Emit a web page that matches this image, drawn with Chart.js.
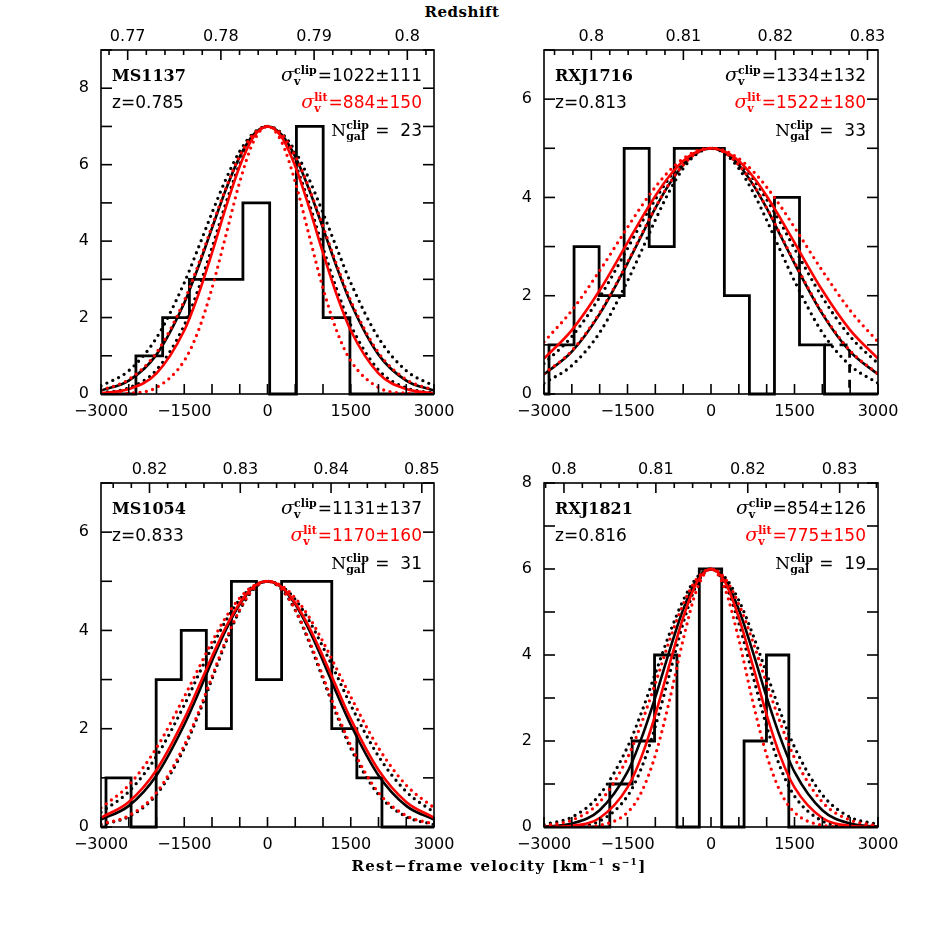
<!DOCTYPE html>
<html lang="en">
<head>
  <meta charset="UTF-8" />
  <title>Cluster velocity distributions</title>
  <script src="https://cdn.jsdelivr.net/npm/chart.js"></script>
  <style>
    body { margin: 0; background: #fff; width: 926px; height: 926px; position: relative; overflow: hidden; }
    canvas.panel { position: absolute; }
    .lbl { position: absolute; font-family: "DejaVu Serif"; font-weight: bold; color: #000; white-space: nowrap; transform: translateX(-50%); }
    .lbl sup { font-size: 9px; vertical-align: 6px; }
    #redshift { left: 462px; top: 3px; font-size: 15px; letter-spacing: 0.5px; }
    #xtitle { left: 499px; top: 857px; font-size: 15px; letter-spacing: 1.3px; }
  </style>
</head>
<body>
  <div id="redshift" class="lbl">Redshift</div>
  <canvas id="p1" class="panel" width="463" height="440" style="left:0px;top:0px"></canvas>
  <canvas id="p2" class="panel" width="463" height="440" style="left:463px;top:0px"></canvas>
  <canvas id="p3" class="panel" width="463" height="440" style="left:0px;top:440px"></canvas>
  <canvas id="p4" class="panel" width="463" height="440" style="left:463px;top:440px"></canvas>
  <div id="xtitle" class="lbl">Rest−frame velocity [km<sup>−1</sup> s<sup>−1</sup>]</div>

  <script>
    // velocity sampling of the gaussian curves (km/s)
    const velocityGrid = [-3000,-2500,-2000,-1500,-1250,-1000,-750,-500,-250,0,250,500,750,1000,1250,1500,2000,2500,3000];

    // MS1137
    const ms1137Edges  = [-2371,-1889,-1407,-925,-443,39,521,1003,1485];
    const ms1137Counts = [1,2,3,3,5,0,7,2];
    const ms1137Clip   = [0.09,0.35,1.03,2.38,3.31,4.34,5.35,6.21,6.79,7,6.79,6.21,5.35,4.34,3.31,2.38,1.03,0.35,0.09];
    const ms1137ClipLo = [0.03,0.16,0.63,1.80,2.73,3.83,4.99,6.02,6.74,7,6.74,6.02,4.99,3.83,2.73,1.80,0.63,0.16,0.03];
    const ms1137ClipHi = [0.21,0.61,1.47,2.91,3.81,4.74,5.62,6.35,6.83,7,6.83,6.35,5.62,4.74,3.81,2.91,1.47,0.61,0.21];
    const ms1137Lit    = [0.02,0.13,0.54,1.66,2.58,3.69,4.88,5.96,6.73,7,6.73,5.96,4.88,3.69,2.58,1.66,0.54,0.13,0.02];
    const ms1137LitLo  = [0,0.02,0.17,0.87,1.64,2.77,4.15,5.55,6.61,7,6.61,5.55,4.15,2.77,1.64,0.87,0.17,0.02,0];
    const ms1137LitHi  = [0.10,0.38,1.08,2.44,3.37,4.39,5.38,6.23,6.80,7,6.80,6.23,5.38,4.39,3.37,2.44,1.08,0.38,0.10];

    // RXJ1716
    const rxj1716Edges  = [-2910,-2460,-2010,-1560,-1110,-660,-210,240,690,1140,1590,2040];
    const rxj1716Counts = [1,3,2,5,3,5,5,2,0,4,1];
    const rxj1716ExtraEdges  = [2040,2490];
    const rxj1716ExtraCounts = [1];
    const rxj1716Clip   = [0.40,0.86,1.63,2.66,3.22,3.78,4.27,4.66,4.91,5,4.91,4.66,4.27,3.78,3.22,2.66,1.63,0.86,0.40];
    const rxj1716ClipLo = [0.22,0.58,1.25,2.30,2.91,3.54,4.12,4.59,4.89,5,4.89,4.59,4.12,3.54,2.91,2.30,1.25,0.58,0.22];
    const rxj1716ClipHi = [0.62,1.17,1.97,2.96,3.48,3.96,4.39,4.72,4.93,5,4.93,4.72,4.39,3.96,3.48,2.96,1.97,1.17,0.62];
    const rxj1716Lit    = [0.72,1.30,2.11,3.08,3.57,4.03,4.43,4.74,4.93,5,4.93,4.74,4.43,4.03,3.57,3.08,2.11,1.30,0.72];
    const rxj1716LitLo  = [0.41,0.88,1.65,2.68,3.24,3.79,4.28,4.66,4.91,5,4.91,4.66,4.28,3.79,3.24,2.68,1.65,0.88,0.41];
    const rxj1716LitHi  = [1.06,1.70,2.51,3.39,3.82,4.21,4.54,4.79,4.95,5,4.95,4.79,4.54,4.21,3.82,3.39,2.51,1.70,1.06];

    // MS1054
    const ms1054Edges  = [-2910,-2458,-2006,-1554,-1102,-650,-198,254,706,1158,1610,2062];
    const ms1054Counts = [1,0,3,4,2,5,3,5,5,2,1];
    const ms1054Clip   = [0.15,0.43,1.05,2.08,2.71,3.38,4.01,4.53,4.88,5,4.88,4.53,4.01,3.38,2.71,2.08,1.05,0.43,0.15];
    const ms1054ClipLo = [0.05,0.21,0.66,1.60,2.27,3.01,3.76,4.41,4.84,5,4.84,4.41,3.76,3.01,2.27,1.60,0.66,0.21,0.05];
    const ms1054ClipHi = [0.30,0.72,1.44,2.48,3.08,3.66,4.20,4.63,4.90,5,4.90,4.63,4.20,3.66,3.08,2.48,1.44,0.72,0.30];
    const ms1054Lit    = [0.19,0.51,1.16,2.20,2.83,3.47,4.07,4.56,4.89,5,4.89,4.56,4.07,3.47,2.83,2.20,1.16,0.51,0.19];
    const ms1054LitLo  = [0.06,0.23,0.70,1.66,2.32,3.06,3.80,4.42,4.85,5,4.85,4.42,3.80,3.06,2.32,1.66,0.70,0.23,0.06];
    const ms1054LitHi  = [0.39,0.85,1.61,2.65,3.21,3.77,4.27,4.66,4.91,5,4.91,4.66,4.27,3.77,3.21,2.65,1.61,0.85,0.39];

    // RXJ1821
    const rxj1821Edges  = [-1818,-1416,-1014,-612,-210,192,594,996,1398];
    const rxj1821Counts = [1,2,4,0,6,0,2,4];
    const rxj1821Clip   = [0.01,0.08,0.39,1.28,2.06,3.02,4.08,5.06,5.75,6,5.75,5.06,4.08,3.02,2.06,1.28,0.39,0.08,0.01];
    const rxj1821ClipLo = [0,0.02,0.14,0.72,1.37,2.34,3.53,4.74,5.66,6,5.66,4.74,3.53,2.34,1.37,0.72,0.14,0.02,0];
    const rxj1821ClipHi = [0.06,0.23,0.75,1.86,2.66,3.57,4.48,5.27,5.81,6,5.81,5.27,4.48,3.57,2.66,1.86,0.75,0.23,0.06];
    const rxj1821Lit    = [0,0.03,0.21,0.92,1.63,2.61,3.76,4.87,5.70,6,5.70,4.87,3.76,2.61,1.63,0.92,0.21,0.03,0];
    const rxj1821LitLo  = [0,0,0.04,0.34,0.81,1.67,2.92,4.36,5.54,6,5.54,4.36,2.92,1.67,0.81,0.34,0.04,0,0];
    const rxj1821LitHi  = [0.03,0.16,0.58,1.61,2.41,3.34,4.32,5.18,5.78,6,5.78,5.18,4.32,3.34,2.41,1.61,0.58,0.16,0.03];

    // panel texts
    const clusterNames = ["MS1137", "RXJ1716", "MS1054", "RXJ1821"];
    const clusterZ     = [0.785, 0.813, 0.833, 0.816];
    const sigmaClip    = ["1022±111", "1334±132", "1131±137", "854±126"];
    const sigmaLit     = ["884±150", "1522±180", "1170±160", "775±150"];
    const nClip        = [23, 33, 31, 19];
    const yMaxes       = [9, 7, 7, 8];

    const LIGHT_C = 299792.458;
    const RED = "#ff0000";

    const fmtVel = v => v < 0 ? "−" + Math.abs(v) : String(v);

    function drawPieces(ctx, pieces, xRight, base, color) {
      let total = 0;
      pieces.forEach(p => {
        ctx.font = p.font;
        p.w = p.text !== undefined ? ctx.measureText(p.text).width
          : Math.max(ctx.measureText(p.sup).width, ctx.measureText(p.sub).width) + 1;
        total += p.w;
      });
      let x = xRight - total;
      ctx.fillStyle = color;
      ctx.textAlign = "left";
      ctx.textBaseline = "alphabetic";
      pieces.forEach(p => {
        ctx.font = p.font;
        if (p.text !== undefined) ctx.fillText(p.text, x, base);
        else {
          ctx.fillText(p.sup, x, base - 7);
          ctx.fillText(p.sub, x, base + 4);
        }
        x += p.w;
      });
    }

    // frame, inward ticks and the text block of each panel
    const framePlugin = {
      id: "frame",
      afterDraw(chart, args, o) {
        const { ctx, chartArea: a, scales } = chart;
        ctx.save();
        ctx.strokeStyle = "#000";
        ctx.lineWidth = 1.6;
        ctx.strokeRect(a.left, a.top, a.right - a.left, a.bottom - a.top);
        const seg = (x1, y1, x2, y2) => { ctx.beginPath(); ctx.moveTo(x1, y1); ctx.lineTo(x2, y2); ctx.stroke(); };
        scales.x.ticks.forEach(t => {
          const px = scales.x.getPixelForValue(t.value);
          seg(px, a.bottom, px, a.bottom - 10);
        });
        scales.x2.ticks.forEach(t => {
          const px = scales.x2.getPixelForValue(t.value);
          seg(px, a.top, px, a.top + (t.label ? 10 : 5));
        });
        scales.y.ticks.forEach(t => {
          const py = scales.y.getPixelForValue(t.value);
          seg(a.left, py, a.left + 11, py);
          seg(a.right, py, a.right - 11, py);
        });

        const i = o.index;
        ctx.fillStyle = "#000";
        ctx.textAlign = "left";
        ctx.textBaseline = "alphabetic";
        ctx.font = "bold 16px 'DejaVu Serif'";
        ctx.fillText(clusterNames[i], a.left + 11, a.top + 31);
        ctx.font = "17px 'DejaVu Sans'";
        ctx.fillText("z=" + clusterZ[i].toFixed(3), a.left + 11, a.top + 58);

        const xr = a.right - 12;
        drawPieces(ctx, [
          { text: "σ", font: "italic 19px 'DejaVu Serif'" },
          { sup: "clip", sub: "v", font: "bold 11px 'DejaVu Serif'" },
          { text: "=" + sigmaClip[i], font: "17px 'DejaVu Sans'" }
        ], xr, a.top + 31, "#000");
        drawPieces(ctx, [
          { text: "σ", font: "italic 19px 'DejaVu Serif'" },
          { sup: "lit", sub: "v", font: "bold 11px 'DejaVu Serif'" },
          { text: "=" + sigmaLit[i], font: "17px 'DejaVu Sans'" }
        ], xr, a.top + 58, RED);
        drawPieces(ctx, [
          { text: "N", font: "17px 'DejaVu Serif'" },
          { sup: "clip", sub: "gal", font: "bold 11px 'DejaVu Serif'" },
          { text: " =  " + nClip[i], font: "17px 'DejaVu Sans'" }
        ], xr, a.top + 86, "#000");
        ctx.restore();
      }
    };

    function makePanel(canvasId, index, hist, extra, curves, box) {
      const curve = arr => velocityGrid.map((v, k) => ({ x: v, y: arr[k] }));
      const steps = (edges, counts) => {
        const pts = [{ x: -3000, y: 0 }];
        counts.forEach((n, k) => pts.push({ x: edges[k], y: n }));
        pts.push({ x: edges[edges.length - 1], y: 0 }, { x: 3000, y: 0 });
        return pts;
      };
      const solid = (arr, color, order) => ({
        data: curve(arr), borderColor: color, borderWidth: 2.6, pointRadius: 0,
        cubicInterpolationMode: "monotone", order
      });
      const dotted = (arr, color, order) => ({
        ...solid(arr, color, order), borderWidth: 3.3, borderDash: [0, 6.5], borderCapStyle: "round"
      });

      const datasets = [
        { data: steps(hist[0], hist[1]), stepped: "before", borderColor: "#000", borderWidth: 2.8, pointRadius: 0, order: 6, clip: false },
        solid(curves[3], RED, 1),
        dotted(curves[4], RED, 2),
        dotted(curves[5], RED, 2),
        solid(curves[0], "#000", 3),
        dotted(curves[1], "#000", 4),
        dotted(curves[2], "#000", 4)
      ];
      if (extra) {
        datasets.push({
          data: [{ x: extra[0][0], y: extra[1][0] }, { x: extra[0][1], y: extra[1][0] }, { x: extra[0][1], y: 0 }],
          borderColor: "#000", borderWidth: 2.8, borderDash: [8, 7], pointRadius: 0, order: 6
        });
      }

      const zc = clusterZ[index];
      const dz = 3000 * (1 + zc) / LIGHT_C;
      const tickFont = { family: "DejaVu Sans", size: 16 };

      new Chart(document.getElementById(canvasId), {
        type: "line",
        data: { datasets },
        options: {
          responsive: false,
          animation: false,
          events: [],
          layout: { padding: { left: 0, top: 0, right: box.padR, bottom: 0 } },
          plugins: { legend: { display: false }, tooltip: { enabled: false }, frame: { index } },
          scales: {
            x: {
              type: "linear", position: "bottom", min: -3000, max: 3000,
              grid: { display: false, drawTicks: false }, border: { display: false },
              ticks: {
                stepSize: 500, autoSkip: false, maxRotation: 0, padding: 8, color: "#000", font: tickFont,
                callback: v => (v % 1500 === 0 ? fmtVel(v) : "")
              },
              afterFit: s => { s.height = box.xH; s.paddingLeft = 0; s.paddingRight = 0; }
            },
            x2: {
              type: "linear", position: "top", min: zc - dz, max: zc + dz,
              grid: { display: false, drawTicks: false }, border: { display: false },
              ticks: {
                stepSize: 0.002, includeBounds: false, autoSkip: false, maxRotation: 0, padding: 4,
                color: "#000", font: tickFont,
                callback: v => (Math.abs(v * 100 - Math.round(v * 100)) < 1e-6 ? String(Math.round(v * 100) / 100) : "")
              },
              afterFit: s => { s.height = box.x2H; s.paddingLeft = 0; s.paddingRight = 0; }
            },
            y: {
              type: "linear", min: 0, max: yMaxes[index],
              grid: { display: false, drawTicks: false }, border: { display: false },
              ticks: {
                stepSize: 1, autoSkip: false, padding: 12, color: "#000", font: tickFont,
                callback: v => (v % 2 === 0 ? String(v) : "")
              },
              afterFit: s => { s.width = box.yW; s.paddingTop = 0; s.paddingBottom = 0; }
            }
          }
        },
        plugins: [framePlugin]
      });
    }

    makePanel("p1", 0, [ms1137Edges, ms1137Counts], null,
      [ms1137Clip, ms1137ClipLo, ms1137ClipHi, ms1137Lit, ms1137LitLo, ms1137LitHi],
      { yW: 101, x2H: 50, padR: 29, xH: 46 });
    makePanel("p2", 1, [rxj1716Edges, rxj1716Counts], [rxj1716ExtraEdges, rxj1716ExtraCounts],
      [rxj1716Clip, rxj1716ClipLo, rxj1716ClipHi, rxj1716Lit, rxj1716LitLo, rxj1716LitHi],
      { yW: 81, x2H: 50, padR: 48, xH: 46 });
    makePanel("p3", 2, [ms1054Edges, ms1054Counts], null,
      [ms1054Clip, ms1054ClipLo, ms1054ClipHi, ms1054Lit, ms1054LitLo, ms1054LitHi],
      { yW: 101, x2H: 43, padR: 29, xH: 53 });
    makePanel("p4", 3, [rxj1821Edges, rxj1821Counts], null,
      [rxj1821Clip, rxj1821ClipLo, rxj1821ClipHi, rxj1821Lit, rxj1821LitLo, rxj1821LitHi],
      { yW: 81, x2H: 43, padR: 48, xH: 53 });
  </script>
</body>
</html>
